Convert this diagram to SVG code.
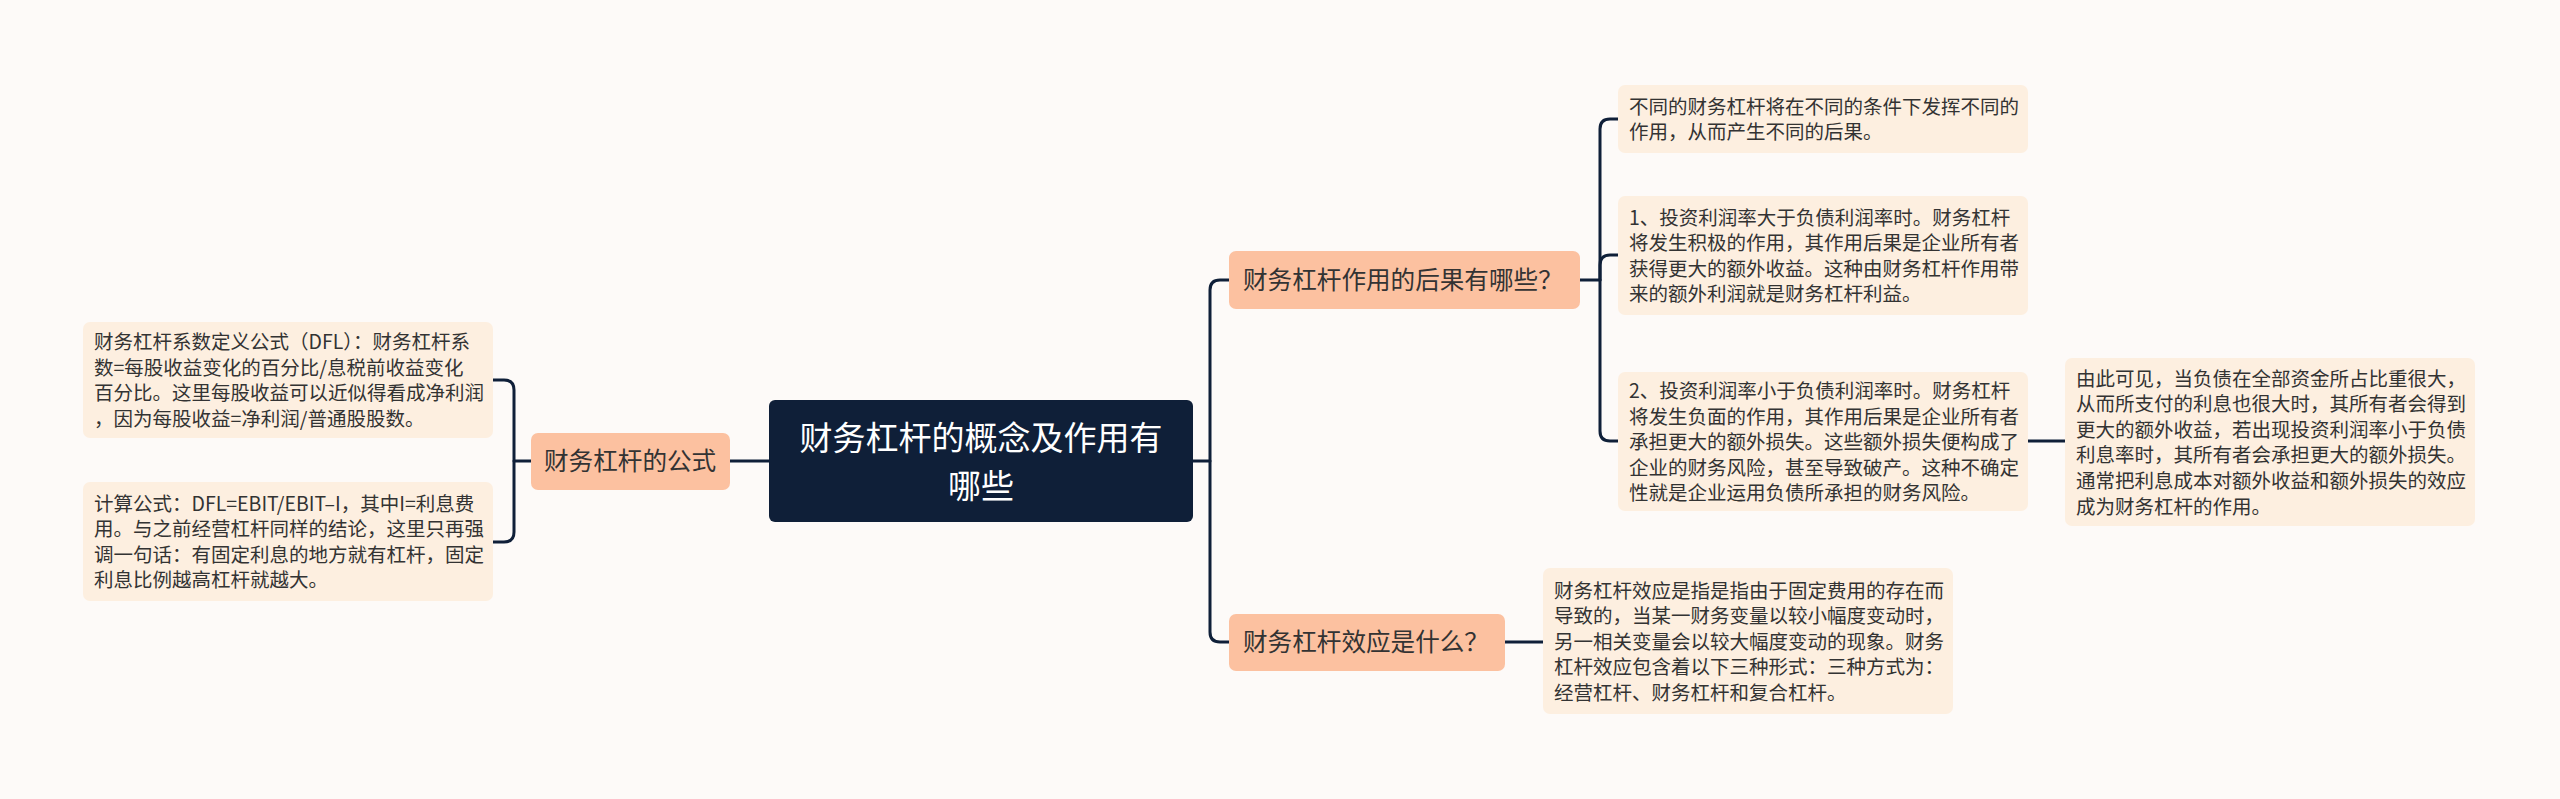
<svg xmlns="http://www.w3.org/2000/svg" width="2560" height="799" viewBox="0 0 2560 799">
<style>
.leaf{fill:#fdefe0;}
.n1{fill:#fcc1a0;}
.root{fill:#0f1f38;}
.lt{font-family:"Noto Sans CJK SC","Noto Sans",sans-serif;font-size:19.5px;fill:#333333;}
.nt{font-family:"Noto Sans CJK SC","Noto Sans",sans-serif;font-size:24.6px;fill:#333333;}
.rt{font-family:"Noto Sans CJK SC","Noto Sans",sans-serif;font-size:33px;fill:#ffffff;text-anchor:middle;}
.c{fill:none;stroke:#0f1f38;stroke-width:3;stroke-linecap:round;stroke-linejoin:round;}
</style>
<rect width="2560" height="799" fill="#fdfaf8"/>
<g id="connectors">
<path class="c" d="M769 461 H730"/>
<path class="c" d="M531 461 H514 V390 Q514 380 504 380 H493"/>
<path class="c" d="M514 461 V532 Q514 542 504 542 H493"/>
<path class="c" d="M1193 461 H1210 V290 Q1210 280 1220 280 H1229"/>
<path class="c" d="M1210 461 V632 Q1210 642 1220 642 H1229"/>
<path class="c" d="M1580 280 H1600 V129 Q1600 119 1610 119 H1618"/>
<path class="c" d="M1600 280 V265 Q1600 255 1610 255 H1618"/>
<path class="c" d="M1600 280 V431 Q1600 441 1610 441 H1618"/>
<path class="c" d="M2028 441 H2065"/>
<path class="c" d="M1505 642 H1543"/>
</g>
<g id="root">
<rect class="root" x="769" y="400" width="424" height="122" rx="6"/>
<text class="rt" x="981" y="450">财务杠杆的概念及作用有</text>
<text class="rt" x="981" y="498">哪些</text>
</g>
<g id="formula">
<rect class="n1" x="531" y="433" width="199" height="57" rx="7"/>
<text class="nt" x="544" y="470">财务杠杆的公式</text>
</g>
<g id="formula-def">
<rect class="leaf" x="83" y="322" width="410" height="116" rx="7"/>
<text class="lt" x="94" y="349">财务杠杆系数定义公式（DFL）：财务杠杆系</text>
<text class="lt" x="94" y="374.6">数=每股收益变化的百分比/息税前收益变化</text>
<text class="lt" x="94" y="400.2">百分比。这里每股收益可以近似得看成净利润</text>
<text class="lt" x="94" y="425.8">，因为每股收益=净利润/普通股股数。</text>
</g>
<g id="formula-calc">
<rect class="leaf" x="83" y="482" width="410" height="119" rx="7"/>
<text class="lt" x="94" y="510.5">计算公式：DFL=EBIT/EBIT–I，其中I=利息费</text>
<text class="lt" x="94" y="536.1">用。与之前经营杠杆同样的结论，这里只再强</text>
<text class="lt" x="94" y="561.7">调一句话：有固定利息的地方就有杠杆，固定</text>
<text class="lt" x="94" y="587.3">利息比例越高杠杆就越大。</text>
</g>
<g id="consequences">
<rect class="n1" x="1229" y="251" width="351" height="58" rx="7"/>
<text class="nt" x="1243" y="289">财务杠杆作用的后果有哪些？</text>
</g>
<g id="cons-a">
<rect class="leaf" x="1618" y="85" width="410" height="68" rx="7"/>
<text class="lt" x="1629" y="113.5">不同的财务杠杆将在不同的条件下发挥不同的</text>
<text class="lt" x="1629" y="139.1">作用，从而产生不同的后果。</text>
</g>
<g id="cons-b">
<rect class="leaf" x="1618" y="196" width="410" height="119" rx="7"/>
<text class="lt" x="1629" y="224.5">1、投资利润率大于负债利润率时。财务杠杆</text>
<text class="lt" x="1629" y="250.1">将发生积极的作用，其作用后果是企业所有者</text>
<text class="lt" x="1629" y="275.7">获得更大的额外收益。这种由财务杠杆作用带</text>
<text class="lt" x="1629" y="301.3">来的额外利润就是财务杠杆利益。</text>
</g>
<g id="cons-c">
<rect class="leaf" x="1618" y="372" width="410" height="139" rx="7"/>
<text class="lt" x="1629" y="398">2、投资利润率小于负债利润率时。财务杠杆</text>
<text class="lt" x="1629" y="423.6">将发生负面的作用，其作用后果是企业所有者</text>
<text class="lt" x="1629" y="449.2">承担更大的额外损失。这些额外损失便构成了</text>
<text class="lt" x="1629" y="474.8">企业的财务风险，甚至导致破产。这种不确定</text>
<text class="lt" x="1629" y="500.4">性就是企业运用负债所承担的财务风险。</text>
</g>
<g id="cons-c-detail">
<rect class="leaf" x="2065" y="358" width="410" height="168" rx="7"/>
<text class="lt" x="2076" y="385.5">由此可见，当负债在全部资金所占比重很大，</text>
<text class="lt" x="2076" y="411.1">从而所支付的利息也很大时，其所有者会得到</text>
<text class="lt" x="2076" y="436.7">更大的额外收益，若出现投资利润率小于负债</text>
<text class="lt" x="2076" y="462.3">利息率时，其所有者会承担更大的额外损失。</text>
<text class="lt" x="2076" y="487.9">通常把利息成本对额外收益和额外损失的效应</text>
<text class="lt" x="2076" y="513.5">成为财务杠杆的作用。</text>
</g>
<g id="effect">
<rect class="n1" x="1229" y="614" width="276" height="57" rx="7"/>
<text class="nt" x="1243" y="651">财务杠杆效应是什么？</text>
</g>
<g id="effect-detail">
<rect class="leaf" x="1543" y="568" width="410" height="146" rx="7"/>
<text class="lt" x="1554" y="597.5">财务杠杆效应是指是指由于固定费用的存在而</text>
<text class="lt" x="1554" y="623.1">导致的，当某一财务变量以较小幅度变动时，</text>
<text class="lt" x="1554" y="648.7">另一相关变量会以较大幅度变动的现象。财务</text>
<text class="lt" x="1554" y="674.3">杠杆效应包含着以下三种形式：三种方式为：</text>
<text class="lt" x="1554" y="699.9">经营杠杆、财务杠杆和复合杠杆。</text>
</g>
</svg>
